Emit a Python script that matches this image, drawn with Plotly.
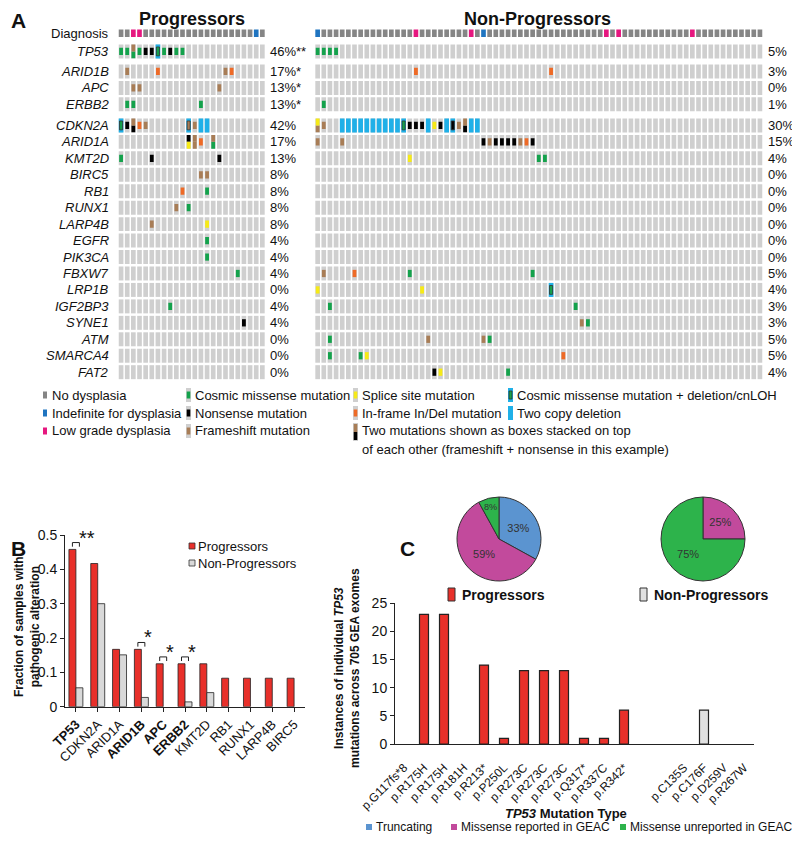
import plotly.graph_objects as go

# The page body has an 8px margin, so the figure is drawn at (8, 8) in the window.
OFF = 8
W, H = 800 - OFF, 842 - OFF
FONT = "Liberation Sans, Arial, Helvetica, sans-serif"

# ======================= DATA =======================
# ---- Panel A: oncoprint ----
genes = ["TP53", "ARID1B", "APC", "ERBB2", "CDKN2A", "ARID1A", "KMT2D", "BIRC5", "RB1",
         "RUNX1", "LARP4B", "EGFR", "PIK3CA", "FBXW7", "LRP1B", "IGF2BP3", "SYNE1",
         "ATM", "SMARCA4", "FAT2"]
n_prog = 24
n_nonprog = 73
# diagnosis: L = low grade dysplasia, I = indefinite, others = no dysplasia
prog_diagnosis = "2:L 3:L 22:I"
nonprog_diagnosis = "0:I 16:L 25:L 27:I 47:L 49:L 61:L"
# alteration codes: M missense, N nonsense, F frameshift, S splice, I in-frame indel,
# D two-copy deletion, XD = mutation X + deletion, a/b = two stacked mutations
prog_alterations = [
    "0:M 1:M 2:F/M 3:M 4:N 5:N 6:MD 7:M 8:N 9:M 10:M",      # TP53
    "1:F 6:I 17:F 18:I",                                    # ARID1B
    "2:F 3:F 16:F",                                         # APC
    "1:M 2:M 13:M",                                         # ERBB2
    "0:MD 1:N 2:F/N 3:I 4:F 11:FD 12:F 13:D 14:D",          # CDKN2A
    "11:N/S 12:F/F 13:I 15:F/M",                            # ARID1A
    "0:M 5:N 16:N",                                         # KMT2D
    "13:F 14:F",                                            # BIRC5
    "10:I 14:M",                                            # RB1
    "9:F 11:M",                                             # RUNX1
    "5:F 14:S",                                             # LARP4B
    "14:M",                                                 # EGFR
    "14:M",                                                 # PIK3CA
    "19:M",                                                 # FBXW7
    "",                                                     # LRP1B
    "8:M",                                                  # IGF2BP3
    "20:N",                                                 # SYNE1
    "",                                                     # ATM
    "",                                                     # SMARCA4
    "",                                                     # FAT2
]
nonprog_alterations = [
    "0:M 1:M 2:M 3:M",                                      # TP53
    "16:I 38:I",                                            # ARID1B
    "",                                                     # APC
    "1:M",                                                  # ERBB2
    "0:S/F 1:F 4:D 5:D 6:D 7:D 8:D 9:D 10:D 11:D 12:D 13:D 14:MD 15:N 16:N 17:N "
    "18:D 19:S 20:N 21:D 22:ND 23:F 24:F/N 25:D 26:D",       # CDKN2A
    "0:F 4:F 27:N 28:F 29:N 30:N 31:N 32:N 33:F 34:I 35:N", # ARID1A
    "15:S 36:M 37:M",                                       # KMT2D
    "", "", "", "", "", "",                                 # BIRC5..PIK3CA
    "1:F 6:I 15:M 35:M",                                    # FBXW7
    "0:S 17:S 38:MD",                                       # LRP1B
    "2:M 42:M",                                             # IGF2BP3
    "43:F 44:M",                                            # SYNE1
    "2:M 18:F 27:F 28:M",                                   # ATM
    "2:M 7:M 8:S 40:I",                                     # SMARCA4
    "19:N 20:S 31:M",                                       # FAT2
]
prog_pct = ["46%**", "17%*", "13%*", "13%*", "42%", "17%", "13%", "8%", "8%", "8%", "8%",
            "4%", "4%", "4%", "0%", "4%", "4%", "0%", "0%", "0%"]
nonprog_pct = ["5%", "3%", "0%", "1%", "30%", "15%", "4%", "0%", "0%", "0%", "0%", "0%",
               "0%", "5%", "4%", "3%", "3%", "5%", "5%", "4%"]

# ---- Panel B ----
b_genes = ["TP53", "CDKN2A", "ARID1A", "ARID1B", "APC", "ERBB2", "KMT2D", "RB1", "RUNX1",
           "LARP4B", "BIRC5"]
b_bold = ["TP53", "ARID1B", "APC", "ERBB2"]
b_prog = [0.458, 0.417, 0.167, 0.167, 0.125, 0.125, 0.125, 0.083, 0.083, 0.083, 0.083]
b_nonprog = [0.055, 0.300, 0.151, 0.027, 0.0, 0.014, 0.041, 0.0, 0.0, 0.0, 0.0]
b_sig = ["**", "", "", "*", "*", "*", "", "", "", "", ""]

# ---- Panel C ----
c_labels = ["p.G117fs*8", "p.R175H", "p.R175H", "p.R181H", "p.R213*", "p.P250L", "p.R273C",
            "p.R273C", "p.R273C", "p.Q317*", "p.R337C", "p.R342*",
            "p.C135S", "p.C176F", "p.D259V", "p.R267W"]
c_group = ["P"] * 12 + ["N"] * 4
c_counts = [0, 23, 23, 0, 14, 1, 13, 13, 13, 1, 1, 6, 0, 6, 0, 0]
c_types = ["T", "R", "R", "U", "T", "R", "R", "R", "R", "T", "R", "T", "U", "R", "U", "U"]
pie_names = ["Truncating", "Missense reported in GEAC", "Missense unreported in GEAC"]
pie_prog = [33, 59, 8]
pie_nonprog = [0, 25, 75]

# ======================= STYLE =======================
C_CELL = "#cfcfcf"
C_MUT = {"M": "#14a24c", "N": "#000000", "F": "#a87d56", "S": "#f6ea17",
         "I": "#ee6a26", "D": "#1fb0e8"}
C_DIAG = {"N": "#858585", "L": "#e6177f", "I": "#1f74c0"}
C_TYPE = {"T": "#5b94d0", "R": "#c24a9c", "U": "#2db34b"}
RED, LGRAY = "#e8302a", "#e0e0e0"


def px(x):
    """window pixel x -> paper fraction"""
    return (x - OFF) / W


def py(y):
    """window pixel y -> paper fraction"""
    return 1 - (y - OFF) / H


def parse(s):
    out = {}
    for tok in s.split():
        c, code = tok.split(":")
        out[int(c)] = code
    return out


def nz(vals):
    return [v if v > 0 else None for v in vals]


fig = go.Figure()

# ======================= PANEL A =======================
RIGHT_OFFSET = 32
row_steps = [0, 1.1, 1.22, 1.0, 1.0, 1.28] + [1.0] * 15
row_y = []
acc = 0
for s in row_steps:
    acc += s
    row_y.append(acc)
diag_y, gene_y = row_y[0], row_y[1:]

CELL_W, CELL_H = 0.76, 0.85
rects = {}


def add_rect(key, x, y0, h, w):
    d = rects.setdefault(key, dict(x=[], base=[], h=[], w=[]))
    d["x"].append(x)
    d["base"].append(y0)
    d["h"].append(h)
    d["w"].append(w)


groups = [(0, n_prog, prog_diagnosis, prog_alterations),
          (RIGHT_OFFSET, n_nonprog, nonprog_diagnosis, nonprog_alterations)]
for off, n, diag, alts in groups:
    dd = parse(diag)
    for c in range(n):
        add_rect("diag_" + dd.get(c, "N"), off + c, diag_y - 0.225, 0.45, CELL_W)
    for gi, y in enumerate(gene_y):
        for c in range(n):
            add_rect("cell", off + c, y - CELL_H / 2, CELL_H, CELL_W)
        for c, code in parse(alts[gi]).items():
            x = off + c
            if "/" in code:
                a, b = code.split("/")
                add_rect(a, x, y - 0.42, 0.42, 0.62)
                add_rect(b, x, y, 0.42, 0.62)
            elif code == "D":
                add_rect("D", x, y - CELL_H / 2, CELL_H, CELL_W)
            elif len(code) == 2 and code.endswith("D"):
                add_rect("D", x, y - CELL_H / 2, CELL_H, CELL_W)
                add_rect(code[0] + "_o", x, y - 0.27, 0.54, 0.5)
            else:
                add_rect(code, x, y - 0.22, 0.44, 0.62)

order = ["cell", "diag_N", "diag_L", "diag_I", "D", "M", "N", "F", "S", "I",
         "M_o", "F_o", "N_o"]
for key in order:
    if key not in rects:
        continue
    d = rects[key]
    if key == "cell":
        color, lw = C_CELL, 0
    elif key.startswith("diag_"):
        color, lw = C_DIAG[key[5:]], 0
    elif key.endswith("_o"):
        color, lw = C_MUT[key[0]], 0.8
    else:
        color, lw = C_MUT[key], 0
    fig.add_trace(go.Bar(x=d["x"], y=d["h"], base=d["base"], width=d["w"],
                         marker=dict(color=color, line=dict(width=lw, color="#333333")),
                         xaxis="x", yaxis="y", hoverinfo="skip", showlegend=False))

ann = []
shapes = []


def text_at(t, x, y, size=13, xanchor="left", yanchor="middle", xref="paper",
            yref="paper", **kw):
    ann.append(dict(text=t, x=px(x) if xref == "paper" else x,
                    y=py(y) if yref == "paper" else y, xref=xref, yref=yref,
                    xanchor=xanchor, yanchor=yanchor, showarrow=False,
                    font=dict(size=size), **kw))


text_at("<b>A</b>", 18, 20, size=21, xanchor="center")
text_at("<b>Progressors</b>", 192, 19, size=18, xanchor="center")
text_at("<b>Non-Progressors</b>", 537, 19, size=18, xanchor="center")
text_at("Diagnosis", 111, diag_y, xanchor="right", yref="y")
for gi, g in enumerate(genes):
    text_at("<i>%s</i>" % g, 111, gene_y[gi], xanchor="right", yref="y")
    text_at(prog_pct[gi], 268, gene_y[gi], yref="y")
    text_at(nonprog_pct[gi], 766, gene_y[gi], yref="y")

# ---- Panel A legend ----
LEG_ROWS = [395, 413, 431, 449]
LEG_COLS = [43, 186, 353, 508]


def rect_paper(x0, y0, x1, y1, color, lw=0):
    shapes.append(dict(type="rect", xref="paper", yref="paper", x0=px(x0), x1=px(x1),
                       y0=py(y1), y1=py(y0), fillcolor=color,
                       line=dict(width=lw, color="#333333")))


def icon_small(x, y, color):
    rect_paper(x, y - 3.5, x + 4, y + 3.5, color)


def icon_cell(x, y, inner=None, bg=C_CELL, outline=False):
    rect_paper(x, y - 7, x + 5, y + 7, bg)
    if inner:
        if outline:
            rect_paper(x + 1, y - 4, x + 4, y + 4, inner, 0.8)
        else:
            rect_paper(x + 0.7, y - 3.5, x + 4.3, y + 3.5, inner)


items = [
    (0, 0, "No dysplasia", lambda x, y: icon_small(x, y, C_DIAG["N"])),
    (0, 1, "Indefinite for dysplasia", lambda x, y: icon_small(x, y, C_DIAG["I"])),
    (0, 2, "Low grade dysplasia", lambda x, y: icon_small(x, y, C_DIAG["L"])),
    (1, 0, "Cosmic missense mutation", lambda x, y: icon_cell(x, y, C_MUT["M"])),
    (1, 1, "Nonsense mutation", lambda x, y: icon_cell(x, y, C_MUT["N"])),
    (1, 2, "Frameshift mutation", lambda x, y: icon_cell(x, y, C_MUT["F"])),
    (2, 0, "Splice site mutation", lambda x, y: icon_cell(x, y, C_MUT["S"])),
    (2, 1, "In-frame In/Del mutation", lambda x, y: icon_cell(x, y, C_MUT["I"])),
    (3, 0, "Cosmic missense mutation + deletion/cnLOH",
     lambda x, y: icon_cell(x, y, C_MUT["M"], bg=C_MUT["D"], outline=True)),
    (3, 1, "Two copy deletion", lambda x, y: icon_cell(x, y, None, bg=C_MUT["D"])),
]
for ci, ri, t, fn in items:
    fn(LEG_COLS[ci], LEG_ROWS[ri])
    text_at(t, LEG_COLS[ci] + 7, LEG_ROWS[ri])
# stacked icon
xs, ys = LEG_COLS[2], LEG_ROWS[2]
rect_paper(xs, ys - 8, xs + 5, ys + 10, C_CELL)
rect_paper(xs + 0.7, ys - 7, xs + 4.3, ys + 1, C_MUT["F"])
rect_paper(xs + 0.7, ys + 1, xs + 4.3, ys + 9, C_MUT["N"])
text_at("Two mutations shown as boxes stacked on top", xs + 7, LEG_ROWS[2])
text_at("of each other (frameshift + nonsense in this example)", xs + 7, LEG_ROWS[3])

# ======================= PANEL B =======================
bx = list(range(len(b_genes)))
fig.add_trace(go.Bar(x=bx, y=nz(b_prog), offset=-0.32, width=0.32,
                     marker=dict(color=RED, line=dict(width=0.8, color="#222222")),
                     xaxis="x2", yaxis="y2", hoverinfo="skip", showlegend=False))
fig.add_trace(go.Bar(x=bx, y=nz(b_nonprog), offset=0.0, width=0.32,
                     marker=dict(color="#d9d9d9", line=dict(width=0.8, color="#222222")),
                     xaxis="x2", yaxis="y2", hoverinfo="skip", showlegend=False))
for i, s in enumerate(b_sig):
    if not s:
        continue
    top = b_prog[i] + 0.02
    fig.add_trace(go.Scatter(x=[i - 0.16, i - 0.16, i + 0.16, i + 0.16],
                             y=[top - 0.012, top, top, top - 0.012], mode="lines",
                             line=dict(color="#222222", width=1), xaxis="x2", yaxis="y2",
                             hoverinfo="skip", showlegend=False))
    ann.append(dict(text=s, x=i + 0.05, y=top, xref="x2", yref="y2", xanchor="left",
                    yanchor="bottom", yshift=-8, showarrow=False, font=dict(size=20)))

b_ticktext = ["<b>%s</b>" % g if g in b_bold else g for g in b_genes]
text_at("<b>B</b>", 18, 548, size=21, xanchor="center")
text_at("<b>Fraction of samples with<br>pathogenic alteration</b>", 27, 627,
        size=12, xanchor="center", textangle=-90)
# legend B
rect_paper(189, 543, 195, 549, RED, 0.8)
text_at("Progressors", 196, 546.5)
rect_paper(189, 560, 195, 566, "#d9d9d9", 0.8)
text_at("Non-Progressors", 196, 563)

# ======================= PANEL C =======================
c_x = []
for i, g in enumerate(c_group):
    c_x.append(i if g == "P" else i + 2)
px_idx = [i for i, g in enumerate(c_group) if g == "P"]
nx_idx = [i for i, g in enumerate(c_group) if g == "N"]
fig.add_trace(go.Bar(x=[c_x[i] for i in px_idx], y=nz([c_counts[i] for i in px_idx]),
                     width=0.45, marker=dict(color=RED, line=dict(width=1.2, color="#222222")),
                     xaxis="x3", yaxis="y3", hoverinfo="skip", showlegend=False))
fig.add_trace(go.Bar(x=[c_x[i] for i in nx_idx], y=nz([c_counts[i] for i in nx_idx]),
                     width=0.45, marker=dict(color=LGRAY, line=dict(width=1.2, color="#222222")),
                     xaxis="x3", yaxis="y3", hoverinfo="skip", showlegend=False))
fig.add_trace(go.Scatter(x=c_x, y=[-0.9] * len(c_x), mode="markers",
                         marker=dict(symbol="square", size=6,
                                     color=[C_TYPE[t] for t in c_types]),
                         cliponaxis=False, xaxis="x3", yaxis="y3", hoverinfo="skip",
                         showlegend=False))

pie_colors = [C_TYPE["T"], C_TYPE["R"], C_TYPE["U"]]
for vals, cx in [(pie_prog, 499), (pie_nonprog, 703)]:
    fig.add_trace(go.Pie(values=vals, labels=pie_names, sort=False, direction="clockwise",
                         rotation=0, text=["%d%%" % v if v > 0 else "" for v in vals],
                         textinfo="text", textposition="inside",
                         insidetextorientation="horizontal",
                         textfont=dict(size=11, color="#333333"),
                         marker=dict(colors=pie_colors, line=dict(color="#333333", width=1)),
                         domain=dict(x=[px(cx - 42), px(cx + 42)], y=[py(581), py(497)]),
                         hoverinfo="skip", showlegend=False))

text_at("<b>C</b>", 407, 548, size=21, xanchor="center")
rect_paper(448, 588, 455, 601, RED, 1)
text_at("<b>Progressors</b>", 460, 595, size=14)
rect_paper(640, 588, 647, 601, LGRAY, 1)
text_at("<b>Non-Progressors</b>", 652, 595, size=14)
text_at("<b>Instances of individual <i>TP53</i><br>mutations across 705 GEA exomes</b>",
        347, 668, size=12, xanchor="center", textangle=-90)
text_at("<b><i>TP53</i> Mutation Type</b>", 566, 813, xanchor="center")
leg_c = [(366, "Truncating", "T"), (451, "Missense reported in GEAC", "R"),
         (620, "Missense unreported in GEAC", "U")]
for x0, t, k in leg_c:
    rect_paper(x0, 824, x0 + 6, 830, C_TYPE[k])
    text_at(t, x0 + 8, 827, size=12)

# ======================= LAYOUT =======================
fig.update_layout(
    template="none",
    width=W, height=H, margin=dict(l=0, r=0, t=0, b=0, pad=0, autoexpand=False),
    paper_bgcolor="white", plot_bgcolor="white", barmode="overlay", showlegend=False,
    font=dict(family=FONT, size=13, color="#111111"),
    annotations=ann, shapes=shapes,
    xaxis=dict(domain=[px(118), px(763)], range=[-0.5, 104.5], visible=False,
               fixedrange=True, automargin=False),
    yaxis=dict(domain=[py(382.05), py(23.43)], range=[21.2, -0.6], visible=False,
               fixedrange=True, automargin=False),
    xaxis2=dict(domain=[px(65), px(305)], range=[-0.5, 10.5], anchor="y2",
                tickvals=bx, ticktext=b_ticktext, tickangle=-45, showline=True,
                linecolor="#222222", ticks="outside", tickson="boundaries", ticklen=4,
                tickcolor="#222222", tickfont=dict(size=13), showgrid=False,
                zeroline=False, automargin=False),
    yaxis2=dict(domain=[py(706.7), py(535)], range=[0, 0.5], dtick=0.1, anchor="x2",
                showline=True, linecolor="#222222", ticks="outside", ticklen=4,
                tickcolor="#222222", tickfont=dict(size=14), showgrid=False,
                zeroline=False, automargin=False),
    xaxis3=dict(domain=[px(395), px(754)], range=[-0.45, 17.5], anchor="y3",
                tickvals=c_x, ticktext=c_labels, tickangle=-45, showline=True,
                linecolor="#222222", ticks="outside", ticklen=11,
                tickcolor="rgba(0,0,0,0)", tickfont=dict(size=12), showgrid=False,
                zeroline=False, automargin=False),
    yaxis3=dict(domain=[py(744), py(603)], range=[0, 25], dtick=5, anchor="x3",
                showline=True, linecolor="#222222", ticks="outside", ticklen=4,
                tickcolor="#222222", tickfont=dict(size=14), showgrid=False,
                zeroline=False, automargin=False),
)

fig.write_html("out.html")
